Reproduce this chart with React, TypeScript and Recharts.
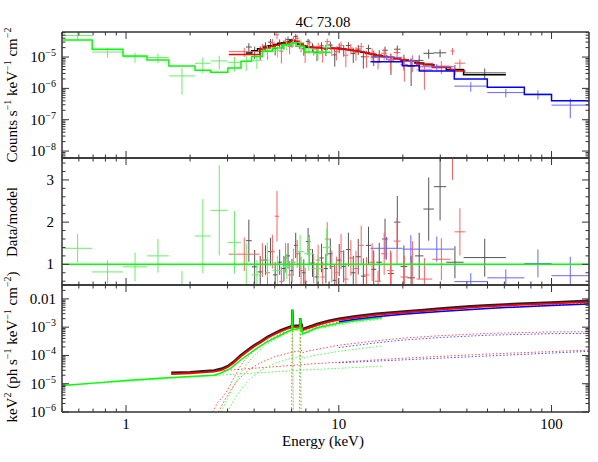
import React from "react";
import {
  ComposedChart,
  Line,
  Scatter,
  ErrorBar,
  XAxis,
  YAxis,
  ReferenceLine,
} from "recharts";

// ---- binned spectra: bin edges (keV), model counts per bin, data/model ----
const blackEdges = [3.66, 3.9, 4.15, 4.4, 4.65, 4.9, 5.15, 5.4, 5.65, 5.9, 6.15, 6.4, 6.7, 7.0, 7.35, 7.7, 8.1, 8.5, 8.9, 9.35, 9.8, 10.3, 10.8, 11.4, 12.0, 12.7, 13.4, 14.2, 15.0, 16.0, 17.0, 18.2, 19.5, 21.0, 22.8, 25.0, 28.0, 32.0, 38.6, 61.0];
const blackModel = [1.34e-5, 1.6e-5, 1.85e-5, 2.05e-5, 2.3e-5, 2.5e-5, 2.7e-5, 2.85e-5, 3.0e-5, 3.5e-5, 3.1e-5, 2.6e-5, 2.3e-5, 2.05e-5, 2.02e-5, 2.0e-5, 1.98e-5, 1.96e-5, 1.94e-5, 1.9e-5, 1.85e-5, 1.8e-5, 1.72e-5, 1.62e-5, 1.52e-5, 1.42e-5, 1.3e-5, 1.2e-5, 1.1e-5, 1.03e-5, 9.6e-6, 8.9e-6, 8.2e-6, 7.4e-6, 6.5e-6, 5.7e-6, 4.8e-6, 3.9e-6, 2.7e-6];
const blackRatio = [1.56, 0.94, 0.82, 1.1, 1.3, 0.75, 1.05, 0.9, 1.2, 0.85, 1.45, 1.0, 0.8, 1.54, 1.03, 0.7, 1.15, 0.9, 1.25, 0.62, 1.1, 0.95, 1.35, 0.8, 1.18, 0.72, 1.45, 0.88, 1.05, 1.6, 0.78, 2.0, 0.95, 0.68, 1.2, 2.31, 2.84, 1.05, 1.16];
const blackRatioErr = [0.5, 0.4, 0.38, 0.35, 0.33, 0.3, 0.3, 0.3, 0.3, 0.28, 0.3, 0.3, 0.32, 0.32, 0.33, 0.33, 0.34, 0.35, 0.36, 0.36, 0.38, 0.38, 0.4, 0.4, 0.42, 0.42, 0.44, 0.45, 0.46, 0.48, 0.5, 0.62, 0.5, 0.52, 0.55, 0.75, 0.8, 0.38, 0.45];

const redEdges = [3.04, 4.25, 4.5, 4.75, 5.0, 5.25, 5.5, 5.75, 6.0, 6.25, 6.5, 6.8, 7.1, 7.45, 7.8, 8.2, 8.6, 9.05, 9.5, 10.0, 10.5, 11.1, 11.7, 12.4, 13.1, 13.9, 14.8, 15.8, 16.9, 18.1, 19.5, 21.2, 23.2, 27.5, 33.5, 35.0, 39.3];
const redModel = [1.2e-5, 1.75e-5, 1.95e-5, 2.2e-5, 2.4e-5, 2.6e-5, 2.75e-5, 2.9e-5, 3.4e-5, 3.2e-5, 2.7e-5, 2.3e-5, 2.1e-5, 2.0e-5, 1.97e-5, 1.95e-5, 1.93e-5, 1.9e-5, 1.86e-5, 1.82e-5, 1.76e-5, 1.68e-5, 1.58e-5, 1.48e-5, 1.37e-5, 1.26e-5, 1.15e-5, 1.06e-5, 9.8e-6, 9.0e-6, 8.2e-6, 7.3e-6, 6.0e-6, 4.6e-6, 3.9e-6, 3.6e-6];
const redRatio = [1.24, 1.1, 0.8, 1.3, 2.14, 0.59, 1.15, 0.75, 1.05, 1.25, 0.85, 0.6, 1.35, 0.9, 1.1, 0.7, 1.6, 0.95, 0.8, 1.3, 0.65, 1.15, 0.9, 1.45, 0.75, 1.05, 0.6, 1.25, 0.85, 1.55, 0.7, 1.0, 0.65, 1.12, 4.0, 1.77];
const redRatioErr = [0.4, 0.4, 0.38, 0.4, 0.6, 0.35, 0.35, 0.33, 0.32, 0.33, 0.33, 0.32, 0.35, 0.35, 0.36, 0.36, 0.4, 0.38, 0.38, 0.42, 0.38, 0.42, 0.42, 0.46, 0.42, 0.45, 0.25, 0.5, 0.48, 0.55, 0.5, 0.55, 0.5, 0.5, 1.0, 0.56];

const greenEdges = [0.506, 0.693, 0.968, 1.255, 1.59, 2.11, 2.5, 3.01, 3.47, 3.89, 4.37, 4.87, 5.44, 5.96, 6.29, 6.88, 7.6, 8.4, 9.17];
const greenModel = [3.5e-5, 1.76e-5, 1.08e-5, 8.0e-6, 5.2e-6, 3.8e-6, 3.3e-6, 4.45e-6, 7.3e-6, 1.05e-5, 1.52e-5, 1.94e-5, 2.47e-5, 2.8e-5, 2.2e-5, 1.46e-5, 1.44e-5, 1.42e-5];
const greenRatio = [1.38, 0.82, 0.94, 1.2, 0.48, 1.67, 2.28, 1.52, 1.0, 0.75, 1.1, 0.85, 0.95, 1.05, 1.3, 1.25, 0.9, 1.4];
const greenRatioErr = [0.34, 0.28, 0.34, 0.4, 0.36, 0.88, 1.07, 0.74, 0.5, 0.35, 0.42, 0.35, 0.3, 0.3, 0.4, 0.4, 0.35, 0.45];

const blueEdges = [14.1, 19.9, 23.9, 34.9, 49.9, 74.5, 100, 150];
const blueModel = [7.1e-6, 5.3e-6, 3.6e-6, 2.0e-6, 1.08e-6, 6.4e-7, 4.0e-7];
const blueRatio = [1.38, 1.36, 1.36, 0.59, 0.68, 1.02, 0.73];
const blueRatioErr = [0.27, 0.33, 0.3, 0.2, 0.2, 0.33, 0.45];

// ---- unfolded model, keV^2 f(E): totals (solid) ----
const blackTotE = [1.63, 2.0, 2.3, 2.59, 2.8, 3.0, 3.2, 3.46, 3.7, 4.0, 4.3, 4.62, 5.0, 5.34, 5.7, 5.96, 6.02, 6.05, 6.08, 6.5, 6.56, 6.59, 6.62, 6.71, 6.73, 7.0, 7.5, 7.9, 9.0, 10, 12, 15, 19.5, 25, 30, 40, 48, 70, 100, 150];
const blackTotF = [2.45e-5, 2.6e-5, 2.8e-5, 3.0e-5, 3.4e-5, 4.2e-5, 6.0e-5, 1.02e-4, 1.5e-4, 2.3e-4, 3.2e-4, 4.6e-4, 6.2e-4, 7.9e-4, 9.6e-4, 1.08e-3, 1.1e-3, 4.2e-3, 1.12e-3, 1.15e-3, 1.16e-3, 2.1e-3, 1.17e-3, 1.2e-3, 8.6e-4, 9.6e-4, 1.15e-3, 1.32e-3, 1.7e-3, 2.0e-3, 2.45e-3, 3.0e-3, 3.55e-3, 4.1e-3, 4.6e-3, 5.4e-3, 5.9e-3, 6.8e-3, 7.6e-3, 8.7e-3];
const redTotF = [2.2e-5, 2.35e-5, 2.5e-5, 2.7e-5, 3.05e-5, 3.8e-5, 5.4e-5, 9.2e-5, 1.35e-4, 2.07e-4, 2.9e-4, 4.15e-4, 5.6e-4, 7.1e-4, 8.6e-4, 9.7e-4, 9.9e-4, 3.8e-3, 1.0e-3, 1.03e-3, 1.04e-3, 1.9e-3, 1.05e-3, 1.08e-3, 7.7e-4, 8.6e-4, 1.03e-3, 1.19e-3, 1.53e-3, 1.8e-3, 2.2e-3, 2.7e-3, 3.2e-3, 3.7e-3, 4.15e-3, 4.85e-3, 5.3e-3, 6.1e-3, 6.85e-3, 7.8e-3];
const greenTotE = [0.5, 0.7, 1.0, 1.5, 2.0, 2.59, 2.8, 3.1, 3.46, 4.0, 4.62, 5.34, 5.96, 6.02, 6.05, 6.08, 6.5, 6.56, 6.59, 6.62, 6.71, 6.73, 7.0, 7.9, 9.0, 10, 12, 14, 16];
const greenTotF = [8.7e-6, 1.05e-5, 1.3e-5, 1.6e-5, 1.8e-5, 2.0e-5, 2.4e-5, 3.5e-5, 6.9e-5, 1.55e-4, 3.1e-4, 5.3e-4, 7.9e-4, 8.0e-4, 4.1e-3, 8.2e-4, 8.8e-4, 8.9e-4, 2.06e-3, 9.0e-4, 9.2e-4, 5.8e-4, 6.5e-4, 9.5e-4, 1.17e-3, 1.37e-3, 1.7e-3, 1.95e-3, 2.2e-3];
const blueTotE = [10, 12, 15, 20, 30, 50, 70, 100, 150];
const blueTotF = [1.55e-3, 1.9e-3, 2.35e-3, 2.85e-3, 3.6e-3, 4.6e-3, 5.2e-3, 5.8e-3, 6.6e-3];

// ---- model components (dotted) ----
const redAbsE = [2.55, 2.7, 2.85, 3.0, 3.2, 3.46, 3.7, 4.0, 4.3, 4.62, 5.0, 5.34, 5.96, 6.71, 6.73, 7.0, 7.9, 10, 15, 20, 30, 50, 100, 150];
const redAbsF = [1e-6, 2.2e-6, 3.5e-6, 6e-6, 1.5e-5, 4.5e-5, 8.5e-5, 1.45e-4, 2.2e-4, 3.3e-4, 4.5e-4, 5.9e-4, 7.9e-4, 9.8e-4, 6.8e-4, 7.8e-4, 1.07e-3, 1.52e-3, 2.3e-3, 2.85e-3, 3.6e-3, 4.6e-3, 6.1e-3, 7.0e-3];
const redReflE = [2.72, 2.9, 3.1, 3.4, 3.8, 4.3, 5.0, 6.0, 6.71, 6.73, 7.4, 10, 15, 20, 30, 50, 100, 150];
const redReflF = [1e-6, 2.5e-6, 6e-6, 1.5e-5, 3.2e-5, 5.6e-5, 9e-5, 1.3e-4, 1.5e-4, 1.25e-4, 1.5e-4, 2.3e-4, 3.3e-4, 4.1e-4, 5.0e-4, 6.0e-4, 6.8e-4, 6.9e-4];
const redScatE = [1.63, 3.0, 7.4, 19.5, 50, 150];
const redScatF = [2.2e-5, 3.0e-5, 5.0e-5, 7.9e-5, 1.12e-4, 1.55e-4];
const greenAbsE = [2.8, 3.0, 3.2, 3.46, 3.7, 4.0, 4.62, 5.34, 5.96, 6.71, 6.73, 7.9, 10, 13, 16];
const greenAbsF = [1e-6, 3e-6, 8e-6, 2.5e-5, 5e-5, 1.0e-4, 2.6e-4, 4.7e-4, 7.0e-4, 8.2e-4, 5.2e-4, 8.6e-4, 1.2e-3, 1.6e-3, 1.95e-3];
const greenReflE = [3.0, 3.2, 3.45, 3.8, 4.3, 5.0, 6.0, 6.71, 6.73, 7.4, 10, 13, 16];
const greenReflF = [1e-6, 2.5e-6, 6e-6, 1.4e-5, 3e-5, 5.3e-5, 8e-5, 9.5e-5, 7.8e-5, 9.5e-5, 1.4e-4, 1.8e-4, 2.15e-4];
const greenScatE = [0.5, 2.6, 6.6, 16];
const greenScatF = [8.5e-6, 1.95e-5, 3.0e-5, 4.2e-5];
const blueReflE = [10, 15, 20, 30, 50, 100, 150];
const blueReflF = [1.9e-4, 2.8e-4, 3.5e-4, 4.3e-4, 5.2e-4, 5.9e-4, 6.0e-4];
const blueScatE = [10, 30, 150];
const blueScatF = [5.5e-5, 8.0e-5, 1.4e-4];
// Fe lines (narrow gaussians)
const line1E = [5.99, 6.05, 6.11];
const line2E = [6.53, 6.59, 6.65];
const redLine1F = [1e-6, 3.5e-3, 1e-6];
const redLine2F = [1e-6, 1.7e-3, 1e-6];
const greenLine1F = [1e-6, 3.3e-3, 1e-6];
const greenLine2F = [1e-6, 1.5e-3, 1e-6];

const xTicks = [0.5, 0.6, 0.7, 0.8, 0.9, 1, 2, 3, 4, 5, 6, 7, 8, 9, 10, 20, 30, 40, 50, 60, 70, 80, 90, 100];

// ---- layout ----
const W = 598;
const H = 462;
const LEFT = 62;
const RIGHT = 589;
const FONT = '"Liberation Serif", "Times New Roman", serif';
const AX = "#333";
const C = { black: "#000000", red: "#ff0000", green: "#00ff00", blue: "#0000ff" };
const CROSS = { black: "#555555", red: "#ff6060", green: "#66ee66", blue: "#6666ff" };

type Pt = { e: number; f: number; ex?: number[]; ey?: number };

function binned(edges: number[], model: number[], ratio: number[], err: number[]) {
  const counts: Pt[] = [];
  const ratios: Pt[] = [];
  const step: Pt[] = [];
  model.forEach((m, i) => {
    const lo = edges[i];
    const hi = edges[i + 1];
    const c = Math.sqrt(lo * hi);
    const ex = [c - lo, hi - c];
    counts.push({ e: c, f: ratio[i] * m, ex, ey: err[i] * m });
    ratios.push({ e: c, f: ratio[i], ex, ey: err[i] });
    step.push({ e: lo, f: m });
  });
  step.push({ e: edges[edges.length - 1], f: model[model.length - 1] });
  return { counts, ratios, step };
}

const pairs = (es: number[], fs: number[]): Pt[] => es.map((e, i) => ({ e, f: fs[i] }));

const black = binned(blackEdges, blackModel, blackRatio, blackRatioErr);
const red = binned(redEdges, redModel, redRatio, redRatioErr);
const green = binned(greenEdges, greenModel, greenRatio, greenRatioErr);
const blue = binned(blueEdges, blueModel, blueRatio, blueRatioErr);

function logTicks(lo: number, hi: number) {
  const out: number[] = [];
  for (let d = Math.floor(Math.log10(lo)); d <= Math.ceil(Math.log10(hi)); d++) {
    for (let k = 1; k <= 9; k++) {
      const v = Number((k * Math.pow(10, d)).toPrecision(3));
      if (v >= lo && v <= hi) out.push(v);
    }
  }
  return out;
}

const isDecade = (v: number) => {
  const l = Math.log10(v);
  return Math.abs(l - Math.round(l)) < 1e-6;
};
const isInt = (v: number) => Math.abs(v - Math.round(v)) < 1e-6;

type Side = "top" | "bottom" | "left" | "right";

function makeTick(side: Side, isMajor: (v: number) => boolean, label?: (v: number, x: number, y: number) => React.ReactNode) {
  return (props: any) => {
    const { x, y, payload } = props;
    const v = payload.value as number;
    const major = isMajor(v);
    const len = major ? 7 : 3.5;
    let l = { x1: x, x2: x, y1: y, y2: y };
    if (side === "bottom") l = { x1: x, x2: x, y1: y, y2: y - len };
    if (side === "top") l = { x1: x, x2: x, y1: y, y2: y + len };
    if (side === "left") l = { x1: x, x2: x + len, y1: y, y2: y };
    if (side === "right") l = { x1: x, x2: x - len, y1: y, y2: y };
    return (
      <g>
        <line {...l} stroke={AX} strokeWidth={1} />
        {label && major ? label(v, x, y) : null}
      </g>
    );
  };
}

const powLabel = (v: number, x: number, y: number) => {
  if (v === 0.01) {
    return (
      <text x={x - 6} y={y + 5} textAnchor="end" fontSize={15} fontFamily={FONT} fill="#000">
        0.01
      </text>
    );
  }
  const p = Math.round(Math.log10(v));
  return (
    <text x={x - 6} y={y + 5} textAnchor="end" fontSize={15} fontFamily={FONT} fill="#000">
      10
      <tspan dy={-6} fontSize={10}>
        {"\u2212" + Math.abs(p)}
      </tspan>
    </text>
  );
};

const linLabel = (v: number, x: number, y: number) => (
  <text x={x - 8} y={y + 5} textAnchor="end" fontSize={15} fontFamily={FONT} fill="#000">
    {v}
  </text>
);

const xLabel = (v: number, x: number, y: number) => (
  <text x={x} y={y + 17} textAnchor="middle" fontSize={15} fontFamily={FONT} fill="#000">
    {v}
  </text>
);

const axisLine = { stroke: AX, strokeWidth: 1.5 };
const noShape = () => <g />;

type PanelProps = {
  top: number;
  bottom: number;
  yScale: "log" | "linear";
  yDomain: [number, number];
  yTicks: number[];
  yMajor: (v: number) => boolean;
  yLab: (v: number, x: number, y: number) => React.ReactNode;
  showX?: boolean;
  children?: React.ReactNode;
};

// axes are 1px thick boxes (recharts skips axes of size 0), margins compensate.
// Series are drawn in a chart clipped to the plot box; the frame and ticks in a second one on top.
function PanelChart({ top, bottom, yScale, yDomain, yTicks, yMajor, yLab, showX, children, frame }: PanelProps & { frame: boolean }) {
  const common = {
    type: "number" as const,
    allowDataOverflow: true,
    interval: 0 as const,
    tickSize: 0,
    tickMargin: 0,
    tickLine: false,
    axisLine: frame ? axisLine : false,
  };
  const t = (side: Side, major: (v: number) => boolean, lab?: (v: number, x: number, y: number) => React.ReactNode) =>
    frame ? makeTick(side, major, lab) : false;
  return (
    <ComposedChart
      width={W}
      height={H}
      margin={{ top: top - 1, bottom: H - bottom - 1, left: LEFT - 1, right: W - RIGHT - 1 }}
    >
      <XAxis xAxisId="b" dataKey="e" scale="log" domain={[0.5, 150]} ticks={xTicks} height={1}
        {...common} tick={t("bottom", isDecade, showX ? xLabel : undefined)} />
      <XAxis xAxisId="t" dataKey="e" orientation="top" scale="log" domain={[0.5, 150]} ticks={xTicks} height={1}
        {...common} tick={t("top", isDecade)} />
      <YAxis yAxisId="l" dataKey="f" scale={yScale} domain={yDomain} ticks={yTicks} width={1}
        {...common} tick={t("left", yMajor, yLab)} />
      <YAxis yAxisId="r" dataKey="f" orientation="right" scale={yScale} domain={yDomain} ticks={yTicks} width={1}
        {...common} tick={t("right", yMajor)} />
      {children}
    </ComposedChart>
  );
}

function Panel(props: PanelProps) {
  const { top, bottom, children } = props;
  return (
    <>
      <div
        style={{
          position: "absolute",
          left: 0,
          top: 0,
          clipPath: `inset(${top}px ${W - RIGHT}px ${H - bottom}px ${LEFT}px)`,
        }}
      >
        <PanelChart {...props} frame={false}>
          {children}
        </PanelChart>
      </div>
      <div style={{ position: "absolute", left: 0, top: 0 }}>
        <PanelChart {...props} frame>
          {null}
        </PanelChart>
      </div>
    </>
  );
}

const ids = { xAxisId: "b", yAxisId: "l" };

function crosses(data: Pt[], color: string, key: string) {
  return (
    <Scatter key={key} {...ids} data={data} dataKey="f" shape={noShape} isAnimationActive={false}>
      <ErrorBar dataKey="ex" direction="x" width={0} stroke={color} strokeWidth={1} isAnimationActive={false} />
      <ErrorBar dataKey="ey" direction="y" width={0} stroke={color} strokeWidth={1} isAnimationActive={false} />
    </Scatter>
  );
}

function step(data: Pt[], color: string, key: string) {
  return (
    <Line key={key} {...ids} data={data} dataKey="f" type="stepAfter" stroke={color} strokeWidth={1.5}
      dot={false} activeDot={false} isAnimationActive={false} />
  );
}

function curve(data: Pt[], color: string, key: string, width = 1.5, dotted = false, opacity = 0.7) {
  return (
    <Line key={key} {...ids} data={data} dataKey="f" type="linear" stroke={color} strokeWidth={width}
      strokeDasharray={dotted ? "1.5 2" : undefined} strokeOpacity={dotted ? opacity : 1}
      dot={false} activeDot={false} isAnimationActive={false} />
  );
}

export default function App() {
  return (
    <div style={{ position: "absolute", left: 0, top: 0, width: W, height: H, background: "#fff" }}>
      <Panel top={32} bottom={158} yScale="log" yDomain={[6e-9, 6.3e-5]} yTicks={logTicks(6e-9, 6.3e-5)}
        yMajor={isDecade} yLab={powLabel}>
        {crosses(black.counts, CROSS.black, "bc")}
        {step(black.step, C.black, "bs")}
        {crosses(red.counts, CROSS.red, "rc")}
        {step(red.step, C.red, "rs")}
        {crosses(green.counts, CROSS.green, "gc")}
        {step(green.step, C.green, "gs")}
        {crosses(blue.counts, CROSS.blue, "uc")}
        {step(blue.step, C.blue, "us")}
      </Panel>

      <Panel top={158} bottom={285} yScale="linear" yDomain={[0.51, 3.52]}
        yTicks={[0.6, 0.8, 1, 1.2, 1.4, 1.6, 1.8, 2, 2.2, 2.4, 2.6, 2.8, 3, 3.2, 3.4]}
        yMajor={isInt} yLab={linLabel}>
        {crosses(black.ratios, CROSS.black, "br")}
        {crosses(red.ratios, CROSS.red, "rr")}
        {crosses(green.ratios, CROSS.green, "gr")}
        {crosses(blue.ratios, CROSS.blue, "ur")}
        <ReferenceLine {...ids} y={1} stroke={C.green} strokeWidth={1.5} ifOverflow="hidden" />
      </Panel>

      <Panel top={285} bottom={412} yScale="log" yDomain={[1e-6, 0.031]} yTicks={logTicks(1e-6, 0.031)}
        yMajor={isDecade} yLab={powLabel} showX>
        {curve(pairs(redAbsE, redAbsF), C.red, "ra", 1, true)}
        {curve(pairs(redReflE, redReflF), C.red, "rf", 1, true)}
        {curve(pairs(redScatE, redScatF), C.red, "rsc", 1, true)}
        {curve(pairs(line1E, redLine1F), C.red, "rl1", 1, true, 0.45)}
        {curve(pairs(line2E, redLine2F), C.red, "rl2", 1, true, 0.45)}
        {curve(pairs(greenAbsE, greenAbsF), C.green, "ga", 1, true)}
        {curve(pairs(greenReflE, greenReflF), C.green, "gf", 1, true)}
        {curve(pairs(greenScatE, greenScatF), C.green, "gsc", 1, true)}
        {curve(pairs(line1E, greenLine1F), C.green, "gl1", 1, true, 0.45)}
        {curve(pairs(line2E, greenLine2F), C.green, "gl2", 1, true, 0.45)}
        {curve(pairs(blueReflE, blueReflF), C.blue, "uf", 1, true)}
        {curve(pairs(blueScatE, blueScatF), C.blue, "usc", 1, true)}
        {curve(pairs(blackTotE, blackTotF), "#222", "bt", 2.2)}
        {curve(pairs(blackTotE, redTotF), C.red, "rt", 1.8)}
        {curve(pairs(greenTotE, greenTotF), C.green, "gt", 1.5)}
        {curve(pairs(blueTotE, blueTotF), C.blue, "ut", 1.5)}
      </Panel>

      <svg width={W} height={H} style={{ position: "absolute", left: 0, top: 0 }} fontFamily={FONT} fill="#000">
        <text x={323} y={27} textAnchor="middle" fontSize={15}>4C 73.08</text>
        <text x={323} y={446} textAnchor="middle" fontSize={15}>Energy (keV)</text>
        <text transform="translate(17,95) rotate(-90)" textAnchor="middle" fontSize={15}>
          Counts s<tspan dy={-6} fontSize={10}>{"\u22121"}</tspan>
          <tspan dy={6}>{" keV"}</tspan>
          <tspan dy={-6} fontSize={10}>{"\u22121"}</tspan>
          <tspan dy={6}>{" cm"}</tspan>
          <tspan dy={-6} fontSize={10}>{"\u22122"}</tspan>
        </text>
        <text transform="translate(17,222) rotate(-90)" textAnchor="middle" fontSize={15}>
          Data/model
        </text>
        <text transform="translate(17,347) rotate(-90)" textAnchor="middle" fontSize={15}>
          keV<tspan dy={-6} fontSize={10}>2</tspan>
          <tspan dy={6}>{" (ph s"}</tspan>
          <tspan dy={-6} fontSize={10}>{"\u22121"}</tspan>
          <tspan dy={6}>{" keV"}</tspan>
          <tspan dy={-6} fontSize={10}>{"\u22121"}</tspan>
          <tspan dy={6}>{" cm"}</tspan>
          <tspan dy={-6} fontSize={10}>{"\u22122"}</tspan>
          <tspan dy={6}>)</tspan>
        </text>
      </svg>
    </div>
  );
}
